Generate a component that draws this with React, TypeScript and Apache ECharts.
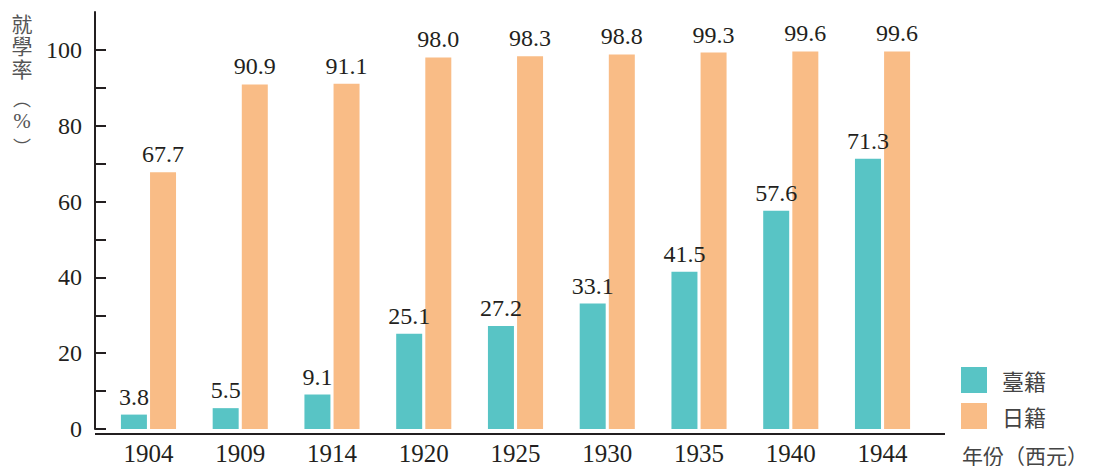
import React, { useEffect, useRef } from "react";
import * as echarts from "echarts";

const years = ["1904", "1909", "1914", "1920", "1925", "1930", "1935", "1940", "1944"];
const taiwanese = [3.8, 5.5, 9.1, 25.1, 27.2, 33.1, 41.5, 57.6, 71.3];
const japanese = [67.7, 90.9, 91.1, 98.0, 98.3, 98.8, 99.3, 99.6, 99.6];
const yLabelValues = [0, 20, 40, 60, 80, 100];
const yTickValues = [0, 10, 20, 30, 40, 50, 60, 70, 80, 90, 100];
const yTitleChars = ["就", "學", "率", "︵", "%", "︶"];

const SERIF = "'Liberation Serif', 'DejaVu Serif', serif";
const SANS = "'Noto Sans CJK TC', 'Noto Sans', sans-serif";
const INK = "#231f20";

export default function App() {
  const ref = useRef<HTMLDivElement>(null);
  useEffect(() => {
    if (!ref.current) return;
    const chart = echarts.init(ref.current, null, { renderer: "svg" });
    const valueLabel = {
      show: true,
      position: "top",
      distance: 6,
      fontFamily: SERIF,
      fontSize: 24,
      color: INK,
      formatter: (p: any) => Number(p.value).toFixed(1),
    };
    const titleY = [23, 45, 68, 98, 121, 146];
    const titleGraphics = yTitleChars.map((ch, i) => ({
      type: "text",
      x: 22,
      y: titleY[i],
      style: {
        text: ch,
        fontFamily: ch === "%" ? SERIF : SANS,
        fontSize: ch === "%" ? 21 : i < 3 ? 21 : 18,
        fill: "#555",
        align: "center",
        verticalAlign: "middle",
      },
    }));
    chart.setOption({
      animation: false,
      backgroundColor: "#ffffff",
      grid: { left: 102.6, right: 168.6, top: 12, bottom: 32 },
      legend: {
        orient: "vertical",
        left: 961,
        top: 367,
        padding: 0,
        itemWidth: 26,
        itemHeight: 26,
        itemGap: 10,
        icon: "rect",
        textStyle: { fontFamily: SANS, fontSize: 22, color: "#444", padding: [0, 0, 0, 10] },
        data: ["臺籍", "日籍"],
      },
      xAxis: {
        type: "category",
        data: years,
        axisLine: { show: false },
        axisTick: { show: false },
        axisLabel: { fontFamily: SERIF, fontSize: 25, color: INK, margin: 12 },
      },
      yAxis: {
        type: "value",
        min: 0,
        max: 110,
        offset: 7.6,
        splitLine: { show: false },
        axisLine: { show: true, lineStyle: { color: INK, width: 2 } },
        axisTick: {
          show: true,
          inside: true,
          length: 11,
          lineStyle: { color: INK, width: 2 },
          customValues: yTickValues,
        },
        axisLabel: {
          fontFamily: SERIF,
          fontSize: 24,
          color: INK,
          margin: 13,
          customValues: yLabelValues,
        },
      },
      series: [
        {
          name: "臺籍",
          type: "bar",
          data: taiwanese,
          barWidth: 26,
          barGap: "12%",
          itemStyle: { color: "#58c4c5" },
          label: valueLabel,
        },
        {
          name: "日籍",
          type: "bar",
          data: japanese,
          barWidth: 26,
          barGap: "12%",
          itemStyle: { color: "#f9bc86" },
          label: valueLabel,
        },
      ],
      graphic: [
        {
          type: "line",
          shape: { x1: 95, y1: 434, x2: 945, y2: 434 },
          style: { stroke: INK, lineWidth: 2 },
          z: 10,
        },
        ...titleGraphics,
        {
          type: "text",
          x: 962,
          y: 455,
          style: {
            text: "年份（西元）",
            fontFamily: SANS,
            fontSize: 21,
            fill: "#444",
            align: "left",
            verticalAlign: "middle",
          },
        },
      ],
    });
    return () => chart.dispose();
  }, []);
  return (
    <div
      ref={ref}
      style={{ position: "fixed", left: 0, top: 0, width: 1097, height: 466 }}
    />
  );
}
